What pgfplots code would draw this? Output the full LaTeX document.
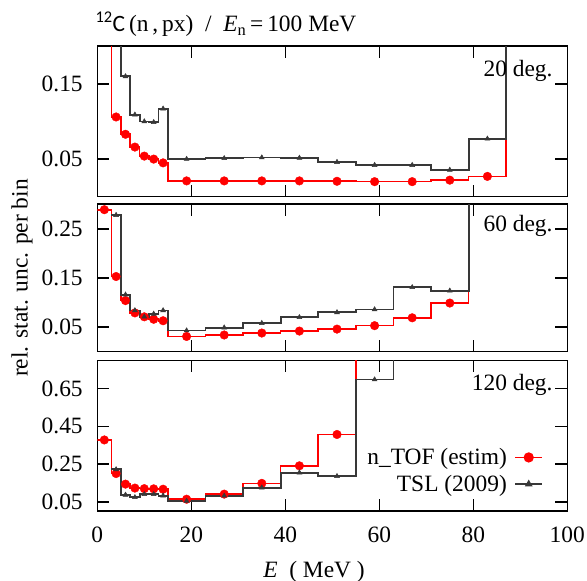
\documentclass[border=0pt]{standalone}
\usepackage{fontspec}
\setmainfont{Liberation Serif}
\newfontfamily\carlito{Carlito}
\usepackage{pgfplots}
\pgfplotsset{compat=1.18}
\definecolor{tslgray}{HTML}{383838}
\definecolor{ntofred}{HTML}{FF0000}
\tikzset{panellabel/.style={anchor=east, font=\fontsize{23.5}{28}\selectfont}}
\pgfplotsset{
  panel/.style={
    scale only axis, width=470bp, xmin=0, xmax=100, ymin=0,
    axis line style={line width=1.6bp, black},
    every tick/.style={line width=1.4bp, black},
    major tick length=12bp,
    tick align=inside, tick pos=both,
    font=\fontsize{23.5}{28}\selectfont,
    xtick={20,40,60,80}, xticklabels={},
    yticklabel style={inner xsep=0pt, xshift=-14.4bp},
    xticklabel style={inner ysep=0pt, yshift=-15.7bp},
    clip=true, anchor=south west,
  },
  redstep/.style={const plot mark left, ntofred, line width=1.6bp, mark=none},
  redmark/.style={only marks, mark=*, mark size=4.3bp, ntofred, mark options={solid, fill=ntofred, draw=ntofred}},
  blkstep/.style={const plot mark left, tslgray, line width=1.8bp, mark=none},
  blkmark/.style={only marks, mark=triangle*, mark size=2.8bp, tslgray, mark options={solid, fill=tslgray, draw=tslgray, line width=0.5bp}},
}
\begin{document}
\begin{tikzpicture}
\useasboundingbox (0,0) rectangle (587bp,581bp);
% ---------------- top panel : 20 deg
\begin{axis}[panel, at={(97.3bp,384.3bp)}, height=150.4bp, ymax=0.2,
  ytick={0.05,0.15}, yticklabels={0.05,0.15}]
\addplot[redstep] coordinates {(0,1.0) (3,0.106) (5,0.083) (7,0.066) (9,0.054) (11,0.050) (13,0.045) (15,0.021) (23,0.021) (31,0.021) (39,0.021) (47,0.0205) (55,0.020) (63,0.020) (71,0.022) (79,0.027) (87,1.0)};
\addplot[redmark] coordinates {(4,0.106) (6,0.083) (8,0.066) (10,0.054) (12,0.050) (14,0.045) (19,0.021) (27,0.021) (35,0.021) (43,0.021) (51,0.0205) (59,0.020) (67,0.020) (75,0.022) (83,0.027)};
\addplot[blkstep] coordinates {(3,1.0) (5,0.160) (7,0.109) (9,0.100) (11,0.099) (13,0.117) (15,0.050) (23,0.051) (31,0.052) (39,0.0515) (47,0.046) (55,0.042) (63,0.042) (71,0.0355) (79,0.077) (87,1.0)};
\addplot[blkmark] coordinates {(6,0.160) (8,0.109) (10,0.100) (12,0.099) (14,0.117) (19,0.050) (27,0.051) (35,0.052) (43,0.0515) (51,0.046) (59,0.042) (67,0.042) (75,0.0355) (83,0.077)};
\node[panellabel] at (rel axis cs:0.976,1) [yshift=-25bp] {20 deg.};
\end{axis}
% ---------------- middle panel : 60 deg
\begin{axis}[panel, at={(97.3bp,229.3bp)}, height=147.4bp, ymax=0.3,
  ytick={0.05,0.15,0.25}, yticklabels={0.05,0.15,0.25}]
\addplot[redstep] coordinates {(0,0.289) (3,0.153) (5,0.104) (7,0.079) (9,0.071) (11,0.066) (13,0.063) (15,0.031) (23,0.034) (31,0.038) (39,0.042) (47,0.046) (55,0.053) (63,0.069) (71,0.099) (79,1.0)};
\addplot[redmark] coordinates {(1.5,0.289) (4,0.153) (6,0.104) (8,0.079) (10,0.071) (12,0.066) (14,0.063) (19,0.031) (27,0.034) (35,0.038) (43,0.042) (51,0.046) (59,0.053) (67,0.069) (75,0.099)};
\addplot[blkstep] coordinates {(3,0.278) (5,0.116) (7,0.084) (9,0.071) (11,0.077) (13,0.084) (15,0.043) (23,0.049) (31,0.058) (39,0.070) (47,0.080) (55,0.086) (63,0.131) (71,0.124) (79,1.0)};
\addplot[blkmark] coordinates {(4,0.278) (6,0.116) (8,0.084) (10,0.071) (12,0.077) (14,0.084) (19,0.043) (27,0.049) (35,0.058) (43,0.070) (51,0.080) (59,0.086) (67,0.131) (75,0.124)};
\node[panellabel] at (rel axis cs:0.976,1) [yshift=-22bp] {60 deg.};
\end{axis}
% ---------------- bottom panel : 120 deg
\begin{axis}[panel, at={(97.3bp,69.7bp)}, height=151bp, ymax=0.8,
  ytick={0.05,0.25,0.45,0.65}, yticklabels={0.05,0.25,0.45,0.65},
  xtick={0,20,40,60,80,100}, xticklabels={0,20,40,60,80,100},
  legend style={at={(0.949,0.43)}, anchor=north east, draw=none, fill=none,
    font=\fontsize{23.5}{28}\selectfont, inner sep=0pt, row sep=5bp,
    nodes={inner xsep=7.5bp, inner ysep=2bp}},
  legend plot pos=right, legend cell align=right,
  legend image code/.code={\draw[#1, mark repeat=2, mark phase=2] plot coordinates {(0bp,0bp) (13.5bp,0bp) (27bp,0bp)};}]
\addplot[redstep, forget plot] coordinates {(0,0.378) (3,0.200) (5,0.144) (7,0.123) (9,0.120) (11,0.119) (13,0.117) (15,0.064) (23,0.091) (31,0.148) (39,0.241) (47,0.407) (55,2.0)};
\addplot[redmark, forget plot] coordinates {(1.5,0.378) (4,0.200) (6,0.144) (8,0.123) (10,0.120) (12,0.119) (14,0.117) (19,0.064) (27,0.091) (35,0.148) (43,0.241) (51,0.407)};
\addplot[blkstep, forget plot] coordinates {(3,0.222) (5,0.087) (7,0.074) (9,0.090) (11,0.090) (13,0.083) (15,0.055) (23,0.082) (31,0.125) (39,0.205) (47,0.186) (55,0.698) (63,2.0)};
\addplot[blkmark, forget plot] coordinates {(4,0.222) (6,0.087) (8,0.074) (10,0.090) (12,0.090) (14,0.083) (19,0.055) (27,0.082) (35,0.125) (43,0.205) (51,0.186) (59,0.698)};
\addlegendimage{ntofred, line width=1.6bp, mark=*, mark size=4.3bp, mark options={solid, fill=ntofred}}
\addlegendentry{n\_TOF (estim)}
\addlegendimage{tslgray, line width=1.8bp, mark=triangle*, mark size=2.8bp, mark options={solid, fill=tslgray}}
\addlegendentry{TSL (2009)}
\node[panellabel] at (rel axis cs:0.976,1) [yshift=-25bp] {120 deg.};
\end{axis}
% ---------------- labels
\node[anchor=base west, font=\fontsize{23.5}{28}\selectfont] at (92bp,549bp)
  {{\carlito\textsuperscript{12}C}\,(n\,,\,px)\ \ /\ \ \textit{E}\textsubscript{n}\,=\,100 MeV};
\node[anchor=base, font=\fontsize{23.5}{28}\selectfont] at (314bp,4bp) {\textit{E}\ \ ( MeV )};
\node[rotate=90, font=\fontsize{23.5}{28}\selectfont] at (22bp,303bp) {rel. stat. unc. per bin};
\end{tikzpicture}
\end{document}
